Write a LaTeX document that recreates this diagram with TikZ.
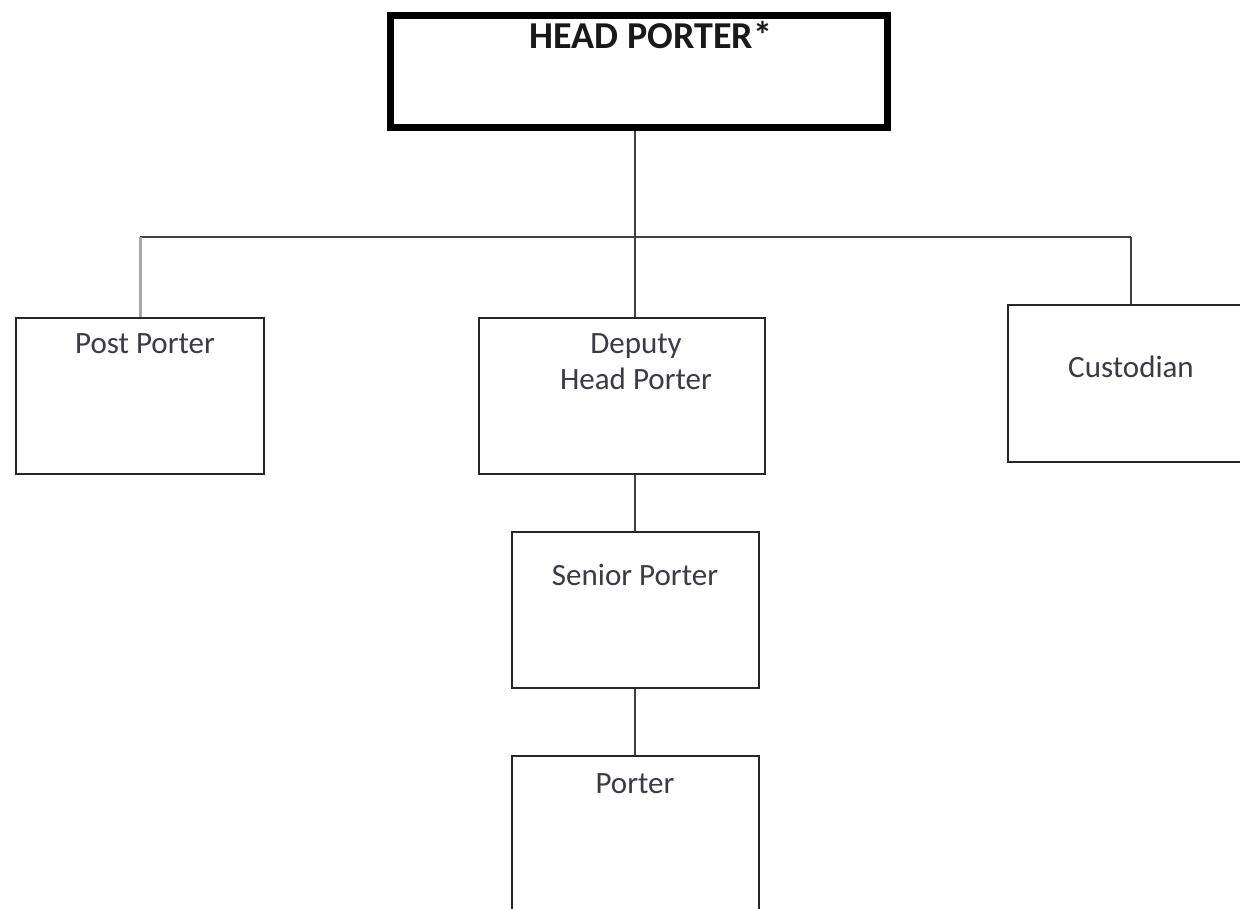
\documentclass[tikz,border=0pt]{standalone}
\usepackage{fontspec}
\setmainfont{Carlito}
\definecolor{txtgray}{HTML}{3A3A48}
\begin{document}
\begin{tikzpicture}[x=1pt,y=-1pt,
  box/.style={draw=black!85,line width=2pt,inner sep=0pt,anchor=north west},
  headbox/.style={draw=black,line width=7pt,inner sep=0pt,anchor=north west},
  conn/.style={draw=black!75,line width=2pt},
  lightconn/.style={draw=black!35,line width=3pt},
  txt/.style={anchor=base,inner sep=0pt,font=\fontsize{31}{37}\selectfont,text=txtgray},
  headtxt/.style={anchor=base,inner sep=0pt,font=\fontsize{38}{44}\selectfont\bfseries,text=black!90}]
\useasboundingbox (0,0) rectangle (1240,908);
\clip (0,0) rectangle (1240,908);
\fill[white] (0,0) rectangle (1240,908);
% boxes (path coordinates)
\node[headbox,minimum width=497pt,minimum height=112pt] (head) at (386.5,11.5) {};
\node[box,minimum width=248pt,minimum height=156pt] (post) at (15,317) {};
\node[box,minimum width=286pt,minimum height=156pt] (deputy) at (478,317) {};
\node[box,minimum width=260pt,minimum height=157pt] (cust) at (1007,304) {};
\node[box,minimum width=247pt,minimum height=156pt] (senior) at (511,531) {};
\node[box,minimum width=247pt,minimum height=200pt] (porter) at (511,755) {};
% texts
\node[headtxt] (headT) at (651,48) {HEAD PORTER*};
\node[txt] (postT) at (145,353) {Post Porter};
\node[txt] (depT1) at (636,353) {Deputy};
\node[txt] (depT2) at (636,389) {Head Porter};
\node[txt] (custT) at (1131,377) {Custodian};
\node[txt] (senT) at (635,585) {Senior Porter};
\node[txt] (porT) at (635,793) {Porter};
% connectors
\coordinate (bus) at (635,237);
\coordinate (busL) at (140,237);
\coordinate (busR) at (1131,237);
\draw[conn] (head.south -| bus) -- (bus);
\draw[conn] (busL) -- (busR);
\draw[lightconn] (busL) -- (busL |- post.north);
\draw[conn] (busR) -- (busR |- cust.north);
\draw[conn] (bus) -- (bus |- deputy.north);
\draw[conn] (deputy.south -| bus) -- (bus |- senior.north);
\draw[conn] (senior.south -| bus) -- (bus |- porter.north);
\end{tikzpicture}
\end{document}
